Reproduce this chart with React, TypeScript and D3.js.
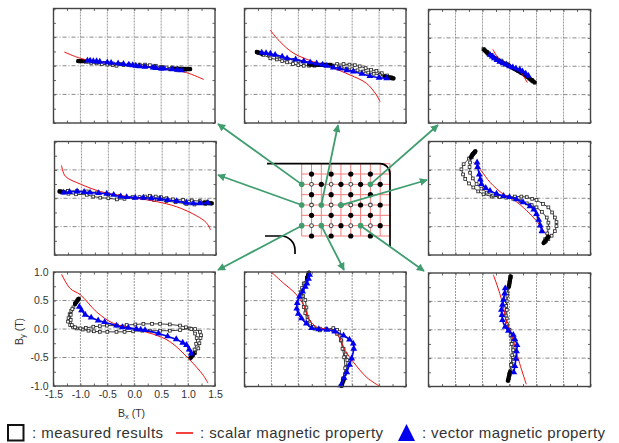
import React, { useRef, useEffect } from 'react';
import * as d3 from 'd3';

type Pt = [number, number];

// every loop is [Bx, By] in tesla
const topLeftMeasured: Pt[] = [[-1.04,.08],[-1.02,.08],[-1,.08],[-.98,.08],[-.96,.08],[-.94,.08],[-.9,.07],[-.8,.05],[-.7,.04],[-.6,.03],[-.5,.02],[-.4,.01],[-.33,0],[-.2,.01],[-.1,.02],[0,.02],[.1,.02],[.2,.02],[.29,.01],[.4,.0],[.5,-.02],[.6,-.03],[.7,-.04],[.8,-.05],[.9,-.06],[.96,-.06],[.98,-.06],[1,-.06],[1.03,-.06],[.95,-.07],[.8,-.08],[.65,-.06],[.5,-.05],[.35,-.03],[.2,-.01],[.05,.0],[-.1,.01],[-.25,.03],[-.4,.04],[-.55,.05],[-.7,.06],[-.85,.07],[-1,.08]];
const topLeftScalar: Pt[] = [[-1.3,.24],[-1,.13],[-.64,.06],[-.02,.01],[.6,-.06],[.97,-.12],[1.29,-.24]];
const topLeftVector: Pt[] = [[-.87,.09],[-.82,.09],[-.76,.08],[-.7,.08],[-.64,.07],[-.5,.06],[-.43,.05],[-.3,.04],[-.2,.03],[-.1,.02],[-.03,.01],[.03,0],[.1,-.01],[.2,-.02],[.35,-.03],[.4,-.04],[.5,-.05],[.55,-.05],[.7,-.06],[.8,-.07],[.88,-.08]];
const topLeftEnds: Pt[][] = [[[-1.04,.08],[-.92,.08]],[[.72,-.05],[1.04,-.06]]];

const topMidMeasured: Pt[] = [[-1.27,.24],[-1.25,.23],[-1.23,.22],[-1.15,.19],[-1.02,.13],[-.9,.11],[-.8,.08],[-.71,.06],[-.6,.03],[-.5,.01],[-.4,0],[-.3,0],[-.2,.0],[-.1,.01],[0,.02],[.1,.02],[.22,.03],[.34,.03],[.45,.02],[.55,.01],[.64,-.01],[.75,-.04],[.85,-.07],[.95,-.09],[1.05,-.13],[1.15,-.17],[1.22,-.2],[1.26,-.22],[1.24,-.22],[1.12,-.19],[1.01,-.16],[.9,-.14],[.8,-.12],[.71,-.1],[.6,-.08],[.5,-.06],[.4,-.05],[.3,-.03],[.2,-.01],[.09,.01],[-.05,.02],[-.18,.03],[-.28,.04],[-.4,.07],[-.5,.08],[-.59,.1],[-.7,.12],[-.8,.14],[-.9,.16],[-1.05,.19],[-1.18,.22],[-1.27,.24]];
const topMidScalar: Pt[] = [[-1.02,.62],[-.84,.42],[-.59,.22],[-.22,.07],[.09,-.02],[.46,-.16],[.77,-.31],[.95,-.51],[1.02,-.63]];
const topMidVector: Pt[] = [[-1.18,.23],[-1.1,.22],[-1.02,.21],[-.93,.19],[-.8,.16],[-.71,.13],[-.55,.11],[-.4,.08],[-.28,.06],[-.16,.04],[-.05,.02],[.03,0],[.15,-.03],[.27,-.05],[.4,-.08],[.52,-.1],[.68,-.14],[.83,-.18],[1,-.21],[1.14,-.22]];
const topMidEnds: Pt[][] = [[[-1.27,.24],[-1.18,.21]],[[1.1,-.19],[1.27,-.22]],[[-.3,.02],[.1,.01]]];

const topRightMeasured: Pt[] = [[-.48,.3],[-.46,.28],[-.44,.26],[-.42,.24],[-.4,.22],[-.37,.2],[-.33,.18],[-.28,.15],[-.22,.11],[-.16,.08],[-.1,.05],[-.05,.03],[0,0],[.05,-.02],[.1,-.05],[.16,-.08],[.22,-.12],[.28,-.15],[.33,-.19],[.37,-.22],[.4,-.24],[.42,-.26],[.44,-.27],[.47,-.29],[.42,-.24],[.33,-.17],[.24,-.11],[.15,-.07],[.05,-.01],[-.05,.04],[-.15,.1],[-.24,.14],[-.33,.2],[-.41,.25],[-.48,.3]];
const topRightScalar: Pt[] = [[-.31,.3],[-.18,.11],[0,0],[.19,-.09],[.33,-.29]];
const topRightVector: Pt[] = [[-.36,.2],[-.32,.17],[-.28,.14],[-.23,.11],[-.18,.08],[-.12,.05],[-.06,.03],[0,0],[.06,-.02],[.12,-.04],[.19,-.06],[.24,-.09],[.3,-.13],[.35,-.17]];
const topRightEnds: Pt[][] = [[[-.47,.29],[-.28,.14],[0,0],[.28,-.15],[.46,-.28]]];

const midLeftMeasured: Pt[] = [[-1.4,.12],[-1.37,.11],[-1.33,.1],[-1.24,.08],[-1.1,.07],[-.9,.06],[-.78,.03],[-.65,.01],[-.5,0],[-.34,-.02],[-.2,-.01],[-.03,.01],[.08,.02],[.18,.03],[.27,.04],[.38,.03],[.48,.02],[.58,0],[.7,-.02],[.89,-.03],[1.05,-.04],[1.2,-.05],[1.3,-.06],[1.38,-.08],[1.42,-.09],[1.3,-.1],[1.1,-.11],[.95,-.1],[.75,-.07],[.58,-.05],[.35,-.03],[.15,0],[-.05,.02],[-.28,.04],[-.5,.07],[-.71,.1],[-.9,.12],[-1.08,.13],[-1.25,.13],[-1.4,.12]];
const midLeftScalar: Pt[] = [[-1.37,.58],[-1.3,.39],[-1.02,.25],[-.65,.12],[-.28,.05],[.03,0],[.4,-.06],[.77,-.15],[1.14,-.31],[1.32,-.43],[1.4,-.56]];
const midLeftVector: Pt[] = [[-1.33,.1],[-1.22,.11],[-1.08,.12],[-.95,.11],[-.84,.1],[-.68,.09],[-.53,.08],[-.4,.06],[-.27,.03],[-.16,.02],[.0,.01],[.15,.01],[.3,0],[.46,-.01],[.6,-.03],[.77,-.05],[.95,-.08],[1.08,-.09],[1.2,-.09],[1.35,-.08]];
const midLeftEnds: Pt[][] = [[[-1.41,.12],[-1.32,.11]],[[1.28,-.08],[1.42,-.09]]];

const midRightMeasured: Pt[] = [[-.64,.82],[-.66,.8],[-.68,.78],[-.7,.76],[-.75,.7],[-.85,.6],[-.89,.51],[-.86,.42],[-.82,.34],[-.75,.26],[-.67,.19],[-.58,.12],[-.48,.07],[-.33,.03],[-.2,.03],[-.05,.02],[.1,.03],[.22,.03],[.32,.02],[.42,-.01],[.5,-.03],[.62,-.1],[.72,-.16],[.79,-.25],[.84,-.34],[.87,-.42],[.87,-.49],[.84,-.58],[.78,-.66],[.72,-.72],[.68,-.75],[.66,-.77],[.64,-.78],[.66,-.72],[.7,-.62],[.72,-.52],[.72,-.43],[.69,-.34],[.6,-.24],[.5,-.16],[.41,-.12],[.32,-.09],[.2,-.05],[.07,-.01],[-.06,.01],[-.18,.02],[-.3,.05],[-.42,.1],[-.52,.17],[-.61,.25],[-.68,.35],[-.73,.45],[-.74,.55],[-.73,.63],[-.7,.72],[-.64,.82]];
const midRightScalar: Pt[] = [[-.67,.64],[-.52,.48],[-.36,.28],[-.11,.07],[.07,-.02],[.32,-.22],[.5,-.4],[.68,-.64]];
const midRightVector: Pt[] = [[-.6,.63],[-.59,.55],[-.56,.42],[-.54,.33],[-.52,.25],[-.44,.18],[-.36,.13],[-.24,.08],[-.11,.04],[0,.02],[.13,-.02],[.25,-.07],[.38,-.14],[.45,-.2],[.5,-.28],[.54,-.38],[.57,-.48],[.6,-.58]];
const midRightEnds: Pt[][] = [[[-.63,.83],[-.72,.72]],[[.72,-.68],[.63,-.79]]];

const botLeftMeasured: Pt[] = [[-1.04,.52],[-1.06,.5],[-1.08,.47],[-1.1,.44],[-1.13,.38],[-1.17,.32],[-1.2,.26],[-1.22,.19],[-1.23,.13],[-1.19,.07],[-1.14,.04],[-1.07,.01],[-.96,-.01],[-.85,-.03],[-.75,-.04],[-.64,-.05],[-.5,-.05],[-.33,-.05],[-.18,-.05],[-.02,-.04],[.15,-.03],[.29,-.03],[.48,-.03],[.66,-.03],[.85,-.02],[1.03,.01],[1.13,0],[1.22,-.05],[1.24,-.11],[1.23,-.16],[1.21,-.25],[1.19,-.34],[1.13,-.42],[1.09,-.46],[1.07,-.48],[1.05,-.5],[1.08,-.45],[1.12,-.36],[1.15,-.26],[1.16,-.16],[1.13,-.08],[1.06,0],[.96,.03],[.85,.06],[.66,.08],[.48,.09],[.33,.09],[.17,.09],[.02,.08],[-.14,.07],[-.32,.06],[-.51,.06],[-.64,.05],[-.76,.04],[-.9,.02],[-1,.01],[-1.1,.03],[-1.16,.07],[-1.18,.16],[-1.18,.25],[-1.15,.35],[-1.1,.45],[-1.04,.52]];
const botLeftScalar: Pt[] = [[-1.35,.96],[-1.19,.71],[-1,.6],[-.7,.3],[-.39,.1],[0,0],[.35,-.09],[.66,-.22],[1.03,-.54],[1.28,-.81],[1.37,-.95]];
const botLeftVector: Pt[] = [[-1.02,.39],[-.98,.33],[-.91,.25],[-.8,.2],[-.67,.15],[-.55,.12],[-.33,.06],[-.22,.03],[-.11,.02],[.04,0],[.12,-.01],[.2,-.02],[.45,-.08],[.62,-.13],[.78,-.18],[.9,-.24],[.97,-.28],[1.02,-.36],[1.06,-.43]];
const botLeftEnds: Pt[][] = [[[-1.03,.53],[-1.1,.44]],[[1.11,-.43],[1.04,-.51]]];

const botMidMeasured: Pt[] = [[-.31,.98],[-.32,.94],[-.34,.9],[-.4,.8],[-.43,.72],[-.45,.65],[-.41,.58],[-.37,.51],[-.35,.38],[-.33,.22],[-.3,.13],[-.28,.07],[-.2,.01],[-.1,-.02],[.02,0],[.15,.02],[.22,-.01],[.26,-.05],[.3,-.2],[.34,-.34],[.38,-.44],[.41,-.54],[.39,-.66],[.37,-.78],[.34,-.88],[.31,-.98],[.33,-.86],[.37,-.68],[.35,-.49],[.32,-.34],[.29,-.19],[.22,-.08],[.15,-.03],[.02,0],[-.1,.01],[-.22,.04],[-.28,.1],[-.33,.16],[-.37,.28],[-.4,.39],[-.44,.57],[-.42,.68],[-.37,.8],[-.33,.9],[-.31,.98]];
const botMidScalar: Pt[] = [[-.99,.99],[-.77,.8],[-.56,.63],[-.4,.42],[-.31,.19],[-.16,.04],[.09,-.01],[.24,-.11],[.37,-.37],[.52,-.57],[.77,-.84],[1,-.99]];
const botMidVector: Pt[] = [[-.29,.95],[-.31,.88],[-.34,.8],[-.37,.74],[-.42,.66],[-.48,.57],[-.52,.46],[-.53,.36],[-.5,.27],[-.44,.19],[-.35,.1],[-.25,.02],[-.12,0],[.03,-.01],[.18,-.04],[.34,-.11],[.45,-.18],[.52,-.25],[.53,-.34],[.49,-.51],[.45,-.62],[.4,-.75],[.35,-.85],[.29,-.98]];
const botMidEnds: Pt[][] = [[[-.3,.99],[-.34,.88]],[[.35,-.86],[.3,-.99]]];

const botRightMeasured: Pt[] = [[.02,.93],[.01,.88],[0,.84],[-.01,.78],[-.04,.64],[-.05,.5],[-.05,.35],[-.05,.2],[-.04,.08],[0,0],[.04,-.09],[.06,-.2],[.07,-.36],[.06,-.48],[.04,-.6],[.02,-.72],[0,-.8],[-.01,-.85],[-.02,-.89],[0,-.78],[.03,-.62],[.05,-.45],[.04,-.25],[.02,-.1],[-.02,0],[-.05,.1],[-.07,.25],[-.06,.42],[-.04,.6],[-.02,.75],[.02,.93]];
const botRightScalar: Pt[] = [[-.3,.97],[-.18,.64],[-.1,.35],[-.05,.11],[.04,-.07],[.1,-.3],[.19,-.6],[.31,-.96]];
const botRightVector: Pt[] = [[-.08,.73],[-.09,.64],[-.11,.53],[-.13,.44],[-.15,.35],[-.14,.26],[-.13,.17],[-.08,.05],[-.02,-.02],[.07,-.09],[.1,-.17],[.14,-.27],[.13,-.38],[.12,-.51],[.1,-.64],[.08,-.75]];
const botRightEnds: Pt[][] = [[[.02,.94],[-.01,.76]],[[.01,-.74],[-.03,-.9]]];

const xDomain: Pt = [-1.5, 1.5];
const yDomain: Pt = [-1, 1];
const xMajor = [-1.5, -1, -0.5, 0, 0.5, 1, 1.5];
const yMajor = [-1, -0.5, 0, 0.5, 1];
const xMinor = [-1.25, -0.75, -0.25, 0.25, 0.75, 1.25];
const yMinor = [-0.75, -0.25, 0.25, 0.75];

// schematic in the middle: stator grid and search-coil points
const gridCols = d3.range(10);
const gridRows = d3.range(8);
const blackDots: Pt[] = [[1,1],[3,1],[5,1],[7,1],[2,2],[4,2],[6,2],[8,2],[1,3],[3,3],[5,3],[7,3],[4,4],[6,4],[8,4],[1,5],[3,5],[5,5],[7,5],[4,6],[8,6],[1,7],[3,7],[5,7],[7,7]];
const openDots: Pt[] = [[1,2],[3,2],[5,2],[1,4],[3,4],[5,4],[7,4],[1,6],[3,6],[5,6],[7,6]];
const greenDots: Pt[] = [[0,2],[7,2],[0,4],[2,4],[4,4],[0,6],[2,6],[6,6]];

const panels = [
  { frame: [53.5, 215, 8.5, 123], measured: topLeftMeasured, scalar: topLeftScalar, vector: topLeftVector, ends: topLeftEnds },
  { frame: [244.5, 406, 8.5, 123], measured: topMidMeasured, scalar: topMidScalar, vector: topMidVector, ends: topMidEnds },
  { frame: [428.5, 590.5, 9.5, 123], measured: topRightMeasured, scalar: topRightScalar, vector: topRightVector, ends: topRightEnds },
  { frame: [54.5, 216, 141.5, 255], measured: midLeftMeasured, scalar: midLeftScalar, vector: midLeftVector, ends: midLeftEnds },
  { frame: [428.5, 590.5, 141.5, 255], measured: midRightMeasured, scalar: midRightScalar, vector: midRightVector, ends: midRightEnds },
  { frame: [53.5, 215, 272, 386], measured: botLeftMeasured, scalar: botLeftScalar, vector: botLeftVector, ends: botLeftEnds, labelled: true },
  { frame: [244.5, 406, 272, 386.5], measured: botMidMeasured, scalar: botMidScalar, vector: botMidVector, ends: botMidEnds },
  { frame: [428.5, 590.5, 273, 386.5], measured: botRightMeasured, scalar: botRightScalar, vector: botRightVector, ends: botRightEnds },
];

// arrows from a grid point to the panel it belongs to
const arrows = [
  [0, 2, 218, 124], [2, 4, 338, 125], [7, 2, 438, 125], [0, 4, 218, 175],
  [4, 4, 427, 180], [0, 6, 218, 270], [2, 6, 344, 270], [6, 6, 424, 271],
];

const FONT = '"Liberation Sans", Arial, sans-serif';
const GREEN = '#3f9d6e';
const BLUE = '#0000ee';

const App = () => {
  const ref = useRef<SVGGElement>(null);

  useEffect(() => {
    const svg = d3.select(ref.current);
    svg.selectAll('*').remove();

    const defs = svg.append('defs');
    defs.append('marker')
      .attr('id', 'head')
      .attr('viewBox', '0 0 10 10')
      .attr('refX', 9).attr('refY', 5)
      .attr('markerWidth', 4.4).attr('markerHeight', 4.4)
      .attr('orient', 'auto')
      .append('path').attr('d', 'M0,0L10,5L0,10Z').attr('fill', GREEN);

    panels.forEach(p => {
      const [x0, x1, y0, y1] = p.frame;
      const x = d3.scaleLinear().domain(xDomain).range([x0, x1]);
      const y = d3.scaleLinear().domain(yDomain).range([y1, y0]);
      const g = svg.append('g');

      g.selectAll('line.vg').data(xMajor.slice(1, -1)).join('line')
        .attr('x1', d => x(d)).attr('x2', d => x(d)).attr('y1', y0).attr('y2', y1)
        .attr('stroke', '#999').attr('stroke-dasharray', '2 1');
      g.selectAll('line.hg').data(yMajor.slice(1, -1)).join('line')
        .attr('y1', d => y(d)).attr('y2', d => y(d)).attr('x1', x0).attr('x2', x1)
        .attr('stroke', '#888').attr('stroke-dasharray', '4 2 1 2');

      // inward ticks on all four sides
      const ticks = [
        { axis: d3.axisBottom(x), at: `translate(0,${y1})`, vals: [...xMajor, ...xMinor] },
        { axis: d3.axisTop(x), at: `translate(0,${y0})`, vals: [...xMajor, ...xMinor] },
        { axis: d3.axisLeft(y), at: `translate(${x0},0)`, vals: [...yMajor, ...yMinor] },
        { axis: d3.axisRight(y), at: `translate(${x1},0)`, vals: [...yMajor, ...yMinor] },
      ];
      ticks.forEach(t => {
        const a = g.append('g').attr('transform', t.at)
          .call((t.axis as any).tickValues(t.vals).tickSize(-2.5).tickSizeOuter(0).tickFormat(() => ''));
        a.select('.domain').remove();
        a.selectAll('line').attr('stroke', '#666');
      });

      const line = d3.line<Pt>().x(d => x(d[0])).y(d => y(d[1]));
      const smooth = d3.line<Pt>().x(d => x(d[0])).y(d => y(d[1])).curve(d3.curveCatmullRom);

      g.append('path').attr('d', line(p.measured)).attr('fill', 'none').attr('stroke', '#222').attr('stroke-width', 0.9);
      g.selectAll('rect.m').data(p.measured).join('rect')
        .attr('x', d => x(d[0]) - 1.4).attr('y', d => y(d[1]) - 1.4)
        .attr('width', 2.8).attr('height', 2.8)
        .attr('fill', 'white').attr('stroke', '#222').attr('stroke-width', 0.8);
      // the markers pile up into a solid bar at the tips of each loop
      p.ends.forEach(seg => {
        g.append('path').attr('d', line(seg)).attr('fill', 'none').attr('stroke', '#000')
          .attr('stroke-width', 4.2).attr('stroke-linecap', 'round');
      });
      g.append('path').attr('d', smooth(p.scalar)).attr('fill', 'none').attr('stroke', '#f01010').attr('stroke-width', 1);
      g.append('path').attr('d', smooth(p.vector)).attr('fill', 'none').attr('stroke', BLUE).attr('stroke-width', 1.6);
      const tri = d3.symbol(d3.symbolTriangle, 20);
      g.selectAll('path.v').data(p.vector).join('path')
        .attr('class', 'v')
        .attr('d', tri)
        .attr('transform', d => `translate(${x(d[0])},${y(d[1])})`)
        .attr('fill', BLUE);

      g.append('rect').attr('x', x0).attr('y', y0)
        .attr('width', x1 - x0).attr('height', y1 - y0)
        .attr('fill', 'none').attr('stroke', '#444').attr('stroke-width', 1.4);

      if (p.labelled) {
        const bottom = g.append('g').attr('transform', `translate(0,${y1})`)
          .call(d3.axisBottom(x).tickValues(xMajor).tickSize(0).tickPadding(5).tickFormat(d => (+d).toFixed(1)));
        const left = g.append('g').attr('transform', `translate(${x0},0)`)
          .call(d3.axisLeft(y).tickValues(yMajor).tickSize(0).tickPadding(5).tickFormat(d => (+d).toFixed(1)));
        [bottom, left].forEach(a => {
          a.select('.domain').remove();
          a.selectAll('text').attr('font-family', FONT).attr('font-size', 10.5).attr('fill', '#333');
        });
      }
    });

    // schematic
    const gx = d3.scaleLinear().domain([0, 9]).range([301.7, 390]);
    const gy = d3.scaleLinear().domain([0, 7]).range([163.7, 236]);
    const sch = svg.append('g');
    sch.selectAll('line.c').data(gridCols).join('line')
      .attr('x1', d => gx(d)).attr('x2', d => gx(d)).attr('y1', gy(0)).attr('y2', gy(7))
      .attr('stroke', '#f47c7c').attr('stroke-width', 1);
    sch.selectAll('line.r').data(gridRows).join('line')
      .attr('y1', d => gy(d)).attr('y2', d => gy(d)).attr('x1', gx(0)).attr('x2', gx(9))
      .attr('stroke', '#f47c7c').attr('stroke-width', 1);

    const outer = d3.path();
    outer.moveTo(267, gy(0));
    outer.lineTo(380, gy(0));
    outer.arcTo(gx(9), gy(0), gx(9), 174, 10);
    outer.lineTo(gx(9), 247);
    sch.append('path').attr('d', outer.toString()).attr('fill', 'none').attr('stroke', '#000').attr('stroke-width', 1.7);
    const inner = d3.path();
    inner.moveTo(265, gy(7));
    inner.lineTo(281, gy(7));
    inner.arcTo(295, gy(7), 295, 254, 14);
    inner.lineTo(295, 254);
    sch.append('path').attr('d', inner.toString()).attr('fill', 'none').attr('stroke', '#000').attr('stroke-width', 1.7);

    sch.selectAll('circle.b').data(blackDots).join('circle')
      .attr('cx', d => gx(d[0])).attr('cy', d => gy(d[1])).attr('r', 2.6).attr('fill', '#000');
    sch.selectAll('circle.o').data(openDots).join('circle')
      .attr('cx', d => gx(d[0])).attr('cy', d => gy(d[1])).attr('r', 1.9)
      .attr('fill', 'white').attr('stroke', '#444').attr('stroke-width', 1.1);
    sch.selectAll('circle.g').data(greenDots).join('circle')
      .attr('cx', d => gx(d[0])).attr('cy', d => gy(d[1])).attr('r', 2.8).attr('fill', GREEN);
    sch.selectAll('line.a').data(arrows).join('line')
      .attr('x1', d => gx(d[0])).attr('y1', d => gy(d[1])).attr('x2', d => d[2]).attr('y2', d => d[3])
      .attr('stroke', GREEN).attr('stroke-width', 1.8).attr('marker-end', 'url(#head)');
  }, []);

  const labelStyle = { fontFamily: FONT, fill: '#333' };
  return (
    <svg width={619} height={443} style={{ position: 'absolute', left: 0, top: 0, background: 'white' }}>
      <g ref={ref} />
      <text x={118} y={417} fontSize={10.5} style={labelStyle}>B<tspan dy={2} fontSize={7.5}>x</tspan><tspan dy={-2}> (T)</tspan></text>
      <text transform="translate(23,345) rotate(-90)" fontSize={10.5} style={labelStyle}>B<tspan dy={2} fontSize={7.5}>y</tspan><tspan dy={-2}> (T)</tspan></text>
      <rect x={8} y={425} width={15.5} height={15.5} fill="white" stroke="#111" strokeWidth={2} />
      <text x={32} y={437.5} fontSize={15} textLength={131} style={labelStyle}>: measured results</text>
      <line x1={176} x2={193} y1={433} y2={433} stroke="#f01010" strokeWidth={1.6} />
      <text x={200} y={437.5} fontSize={15} textLength={183} style={labelStyle}>: scalar magnetic property</text>
      <path d="M406.5,424L415,441L398,441Z" fill={BLUE} />
      <text x={422} y={437.5} fontSize={15} textLength={183} style={labelStyle}>: vector magnetic property</text>
    </svg>
  );
};

export default App;
